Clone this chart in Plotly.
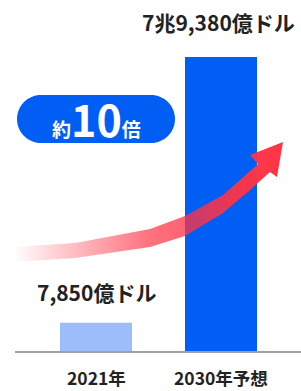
import plotly.graph_objects as go

categories = ["2021年", "2030年予想"]
values = [7850, 79380]
value_labels = ["7,850億ドル", "7兆9,380億ドル"]
bar_colors = ["#9BBDF9", "#005EF5"]
badge_text = "約10倍"

FONT = "Noto Sans CJK JP"
DARK = "#222222"
W, H = 301, 391

# pixel scale helpers for axis ranges (layout, not data)
px_per_cat = 125.0
x0 = -96 / px_per_cat
x1 = x0 + W / px_per_cat
px_per_val = 295.0 / 79380
y0 = -39 / px_per_val
y1 = y0 + H / px_per_val

fig = go.Figure()
fig.add_trace(go.Bar(
    x=[0, 1], y=values, width=0.576, marker=dict(color=bar_colors, line=dict(width=0)),
    hoverinfo="skip", showlegend=False,
))

# decorative arrow (overlay pixel axes)
top_edge = [(13, 247), (75, 243), (150, 229), (185, 216), (223, 195), (258, 164)]
head = [(250, 155), (283, 142), (277, 177), (270, 172)]
bottom_edge = [(250, 190), (223, 213), (185, 236), (150, 247), (75, 258), (13, 262)]
pts = top_edge + head + bottom_edge + [top_edge[0]]
fig.add_trace(go.Scatter(
    x=[p[0] for p in pts], y=[p[1] for p in pts], xaxis="x2", yaxis="y2",
    mode="lines", line=dict(width=0), fill="toself",
    fillgradient=dict(type="horizontal", colorscale=[
        [0.0, "rgba(255,51,70,0)"], [0.23, "rgba(255,51,70,0.33)"],
        [0.51, "rgba(255,51,70,0.70)"], [0.64, "rgba(255,51,70,0.76)"],
        [0.84, "rgba(255,51,70,0.95)"], [1.0, "rgba(255,51,70,1)"]]),
    hoverinfo="skip", showlegend=False,
))

r = 24; k = 0.5523 * r
L, R, T, B = 17, 175, 95, 143
cy = (T + B) / 2
pill = (f"M {L+r},{T} L {R-r},{T} C {R-r+k},{T} {R},{cy-k} {R},{cy} "
        f"C {R},{cy+k} {R-r+k},{B} {R-r},{B} L {L+r},{B} "
        f"C {L+r-k},{B} {L},{cy+k} {L},{cy} C {L},{cy-k} {L+r-k},{T} {L+r},{T} Z")

annotations = [
    dict(x=0, y=values[0], xref="x", yref="y", text=f"<b>{value_labels[0]}</b>", showarrow=False,
         yshift=31, font=dict(family=FONT, size=21, color=DARK)),
    dict(x=1, y=values[1], xref="x", yref="y", text=f"<b>{value_labels[1]}</b>", showarrow=False,
         yshift=35, xshift=-3, font=dict(family=FONT, size=21, color=DARK)),
]
for i, c in enumerate(categories):
    annotations.append(dict(x=i, y=0, xref="x", yref="y", text=f"<b>{c}</b>", showarrow=False,
                            yshift=-25, borderpad=0, font=dict(family=FONT, size=17.5, color=DARK)))
annotations.append(dict(
    x=96, y=118, xref="x2", yref="y2", showarrow=False,
    text="<b>約<span style='font-size:43px'>10</span>倍</b>",
    font=dict(family=FONT, size=19, color="white")))

fig.update_layout(
    width=W, height=H, margin=dict(l=0, r=0, t=0, b=0),
    paper_bgcolor="white", plot_bgcolor="white",
    xaxis=dict(range=[x0, x1], visible=False, fixedrange=True),
    yaxis=dict(range=[y0, y1], visible=False, fixedrange=True),
    xaxis2=dict(range=[0, W], overlaying="x", visible=False, fixedrange=True),
    yaxis2=dict(range=[H, 0], overlaying="y", visible=False, fixedrange=True),
    shapes=[
        dict(type="line", xref="paper", yref="y", x0=15 / W, x1=1, y0=0, y1=0,
             line=dict(color="#A0A0A0", width=2), layer="above"),
        dict(type="path", xref="x2", yref="y2", path=pill, fillcolor="#005EF5",
             line=dict(width=0), layer="above"),
    ],
    annotations=annotations,
    showlegend=False,
)
fig.write_html("out.html", config={"displayModeBar": False},
               post_script="document.body.style.margin='0';document.body.style.overflow='hidden';")
